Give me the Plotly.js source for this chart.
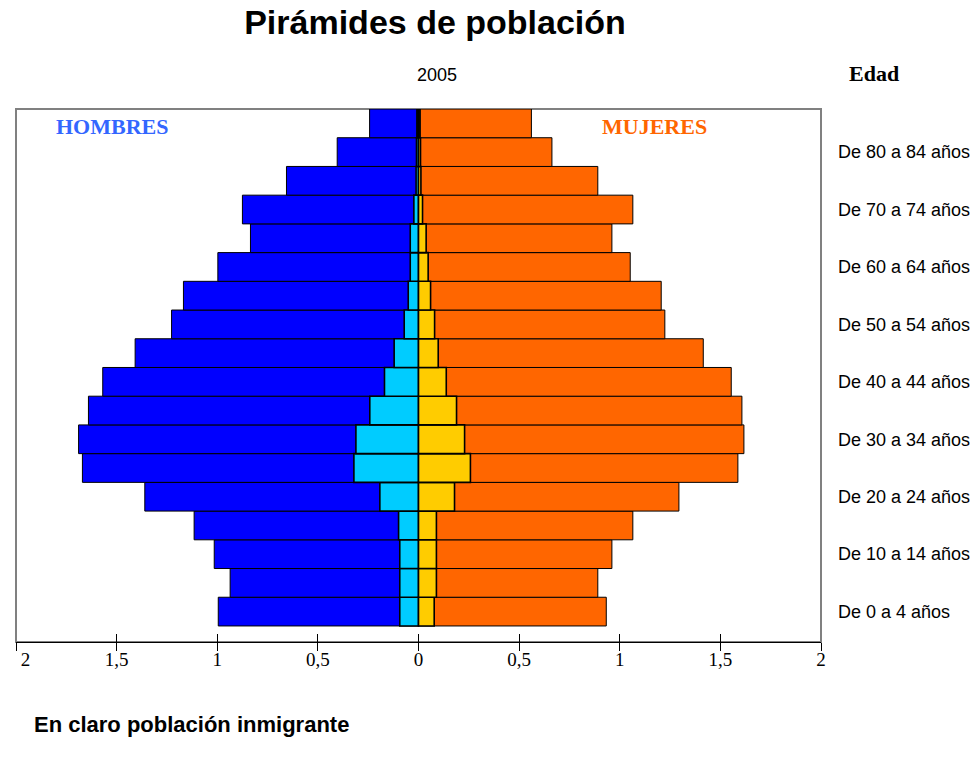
<!DOCTYPE html>
<html>
<head>
<meta charset="utf-8">
<script src="https://cdn.plot.ly/plotly-3.0.1.min.js"></script>
<style>html,body{margin:0;padding:0;background:#fff;}#chart{width:977px;height:764px;}</style>
</head>
<body>
<div id="chart"></div>
<script>
// Age groups, bottom (youngest) to top (oldest)
var ageGroups = ["De 0 a 4 años","De 5 a 9 años","De 10 a 14 años","De 15 a 19 años","De 20 a 24 años","De 25 a 29 años","De 30 a 34 años","De 35 a 39 años","De 40 a 44 años","De 45 a 49 años","De 50 a 54 años","De 55 a 59 años","De 60 a 64 años","De 65 a 69 años","De 70 a 74 años","De 75 a 79 años","De 80 a 84 años","De 85 y más años"];
var shownAgeLabels = ["De 0 a 4 años","De 10 a 14 años","De 20 a 24 años","De 30 a 34 años","De 40 a 44 años","De 50 a 54 años","De 60 a 64 años","De 70 a 74 años","De 80 a 84 años"];
// Percent of population (2005)
var menTotal      = [0.995,0.936,1.015,1.115,1.360,1.670,1.689,1.640,1.569,1.408,1.227,1.168,0.997,0.835,0.875,0.656,0.404,0.243];
var menImmigrant  = [0.093,0.093,0.093,0.099,0.192,0.321,0.311,0.242,0.169,0.121,0.071,0.051,0.041,0.041,0.023,0.012,0.010,0.008];
var womenTotal    = [0.933,0.891,0.961,1.065,1.294,1.587,1.617,1.607,1.554,1.415,1.224,1.206,1.052,0.961,1.065,0.891,0.663,0.561];
var womenImmigrant= [0.078,0.089,0.089,0.089,0.179,0.258,0.229,0.189,0.138,0.098,0.080,0.060,0.048,0.038,0.020,0.012,0.010,0.008];
var xTickVals  = [-2,-1.5,-1,-0.5,0,0.5,1,1.5,2];
var xTickText  = ["\u2007\u20072","1,5","1","0,5","0","0,5","1","1,5","2"];

function neg(a){return a.map(function(v){return -v;});}

var traces = [
  {type:"bar",orientation:"h",name:"Hombres",y:ageGroups,x:neg(menTotal),marker:{color:"#0000FF",line:{color:"#000",width:1}}},
  {type:"bar",orientation:"h",name:"Mujeres",y:ageGroups,x:womenTotal,marker:{color:"#FF6600",line:{color:"#000",width:1}}},
  {type:"bar",orientation:"h",name:"Hombres inmigrantes",y:ageGroups,x:neg(menImmigrant),marker:{color:"#00CCFF",line:{color:"#000",width:1.6}}},
  {type:"bar",orientation:"h",name:"Mujeres inmigrantes",y:ageGroups,x:womenImmigrant,marker:{color:"#FFCC00",line:{color:"#000",width:1.6}}},
  {type:"scatter",x:[0],y:[ageGroups[0]],xaxis:"x2",mode:"markers",marker:{opacity:0},hoverinfo:"skip",showlegend:false}
];

var L=16,R=821,T=109,B=642,W=977,H=764;
function px(x){return (x-L)/(R-L);}
function py(y){return (B-y)/(B-T);}

var layout = {
  width:W,height:H,
  margin:{l:L,r:W-R,t:T,b:H-B,pad:0},
  paper_bgcolor:"#fff",plot_bgcolor:"#fff",
  barmode:"overlay",bargap:0,
  showlegend:false,
  title:{text:"<b>Pirámides de población</b>",font:{family:"Liberation Sans, Arial",size:34,color:"#000"},xref:"container",yref:"container",x:435/W,y:1-22/H,xanchor:"center",yanchor:"middle"},
  xaxis:{range:[-2,2],tickmode:"array",tickvals:xTickVals,ticktext:xTickText,ticks:"inside",ticklen:8,tickcolor:"#000",tickwidth:1,
         ticklabeloverflow:"allow",
         showline:true,linecolor:"#000",linewidth:1,showgrid:false,zeroline:false,
         tickfont:{family:"Liberation Serif, Times New Roman",size:19,color:"#000"}},
  xaxis2:{range:[-2,2],overlaying:"x",anchor:"y",side:"bottom",tickmode:"array",tickvals:xTickVals,ticks:"outside",ticklen:8,tickcolor:"#000",
          showticklabels:false,showline:false,showgrid:false,zeroline:false},
  yaxis:{type:"category",categoryorder:"array",categoryarray:ageGroups,side:"right",tickmode:"array",tickvals:shownAgeLabels,ticktext:shownAgeLabels,
         ticks:"",ticklabelstandoff:16,showline:false,showgrid:false,zeroline:false,
         tickfont:{family:"Liberation Sans, Arial",size:18,color:"#000"}},
  shapes:[{type:"rect",xref:"paper",yref:"paper",x0:0,x1:1,y0:0,y1:1,line:{color:"#808080",width:2},layer:"below"}],
  annotations:[
    {text:"2005",xref:"paper",yref:"paper",x:px(437),y:py(75),showarrow:false,xanchor:"center",yanchor:"middle",font:{family:"Liberation Sans, Arial",size:18,color:"#000"}},
    {text:"<b>Edad</b>",xref:"paper",yref:"paper",x:px(874),y:py(73),showarrow:false,xanchor:"center",yanchor:"middle",font:{family:"Liberation Serif, Times New Roman",size:22,color:"#000"}},
    {text:"<b>HOMBRES</b>",xref:"paper",yref:"paper",x:px(112),y:py(126),showarrow:false,xanchor:"center",yanchor:"middle",font:{family:"Liberation Serif, Times New Roman",size:22,color:"#3366FF"}},
    {text:"<b>MUJERES</b>",xref:"paper",yref:"paper",x:px(654),y:py(126),showarrow:false,xanchor:"center",yanchor:"middle",font:{family:"Liberation Serif, Times New Roman",size:22,color:"#FF6600"}},
    {text:"<b>En claro población inmigrante</b>",xref:"paper",yref:"paper",x:px(32),y:py(724),showarrow:false,xanchor:"left",yanchor:"middle",font:{family:"Liberation Sans, Arial",size:22,color:"#000"}}
  ]
};

Plotly.newPlot("chart",traces,layout,{displayModeBar:false,staticPlot:true});
</script>
</body>
</html>
